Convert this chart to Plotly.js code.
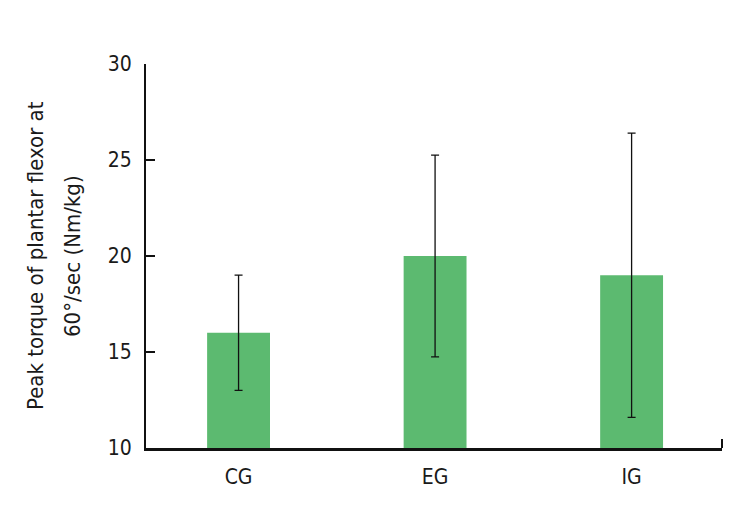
<!DOCTYPE html>
<html>
<head>
<meta charset="utf-8">
<script src="https://cdn.plot.ly/plotly-3.0.1.min.js"></script>
<style>html,body{margin:0;padding:0;background:#fff;}#chart{width:743px;height:515px;}</style>
</head>
<body>
<div id="chart"></div>
<script>
const categories = ['CG', 'EG', 'IG'];
const means = [16, 20, 19];
const sds = [3, 5.25, 7.4];
const yTickVals = [10, 15, 20, 25, 30];
const titleLine1 = 'Peak torque of plantar flexor at';
const titleLine2 = '60°/sec (Nm/kg)';

const FONT = '"Liberation Sans Narrow", "DejaVu Sans Condensed", "Arial Narrow", sans-serif';
const TXT = '#1a1a1a';

const trace = {
  type: 'bar',
  x: categories,
  y: means,
  width: 0.32,
  marker: {color: '#5cba70', line: {width: 0}},
  error_y: {type: 'data', array: sds, visible: true, color: '#111111', thickness: 1.3, width: 4},
  hoverinfo: 'none'
};

const layout = {
  width: 743, height: 515,
  margin: {l: 146, r: 21, t: 64, b: 67},
  paper_bgcolor: '#ffffff', plot_bgcolor: '#ffffff',
  showlegend: false,
  font: {family: FONT, size: 20, color: TXT},
  xaxis: {
    type: 'category', range: [-0.471, 2.46],
    showline: true, linecolor: '#111111', linewidth: 2.5,
    ticks: '', showgrid: false, zeroline: false,
    tickfont: {family: FONT, size: 21, color: TXT},
    ticklabelstandoff: 8
  },
  yaxis: {
    range: [10, 30], tickvals: yTickVals,
    showline: true, linecolor: '#111111', linewidth: 2,
    ticks: 'inside', ticklen: 9, tickwidth: 1.3, tickcolor: '#111111',
    showgrid: false, zeroline: false,
    tickfont: {family: FONT, size: 21, color: TXT},
    ticklabelstandoff: 8
  },
  shapes: [{
    type: 'line', xref: 'paper', yref: 'paper',
    x0: 1, x1: 1, y0: 0, y1: 0.0234,
    line: {color: '#111111', width: 2}
  }],
  annotations: [
    {text: titleLine1, xref: 'paper', yref: 'paper', x: (35 - 146) / 576, y: 0.5,
     xanchor: 'center', yanchor: 'middle', textangle: -90, showarrow: false,
     font: {family: FONT, size: 22, color: TXT}},
    {text: titleLine2, xref: 'paper', yref: 'paper', x: (72 - 146) / 576, y: 0.5,
     xanchor: 'center', yanchor: 'middle', textangle: -90, showarrow: false,
     font: {family: FONT, size: 22, color: TXT}}
  ]
};

Plotly.newPlot('chart', [trace], layout, {staticPlot: true, displayModeBar: false});
</script>
</body>
</html>
